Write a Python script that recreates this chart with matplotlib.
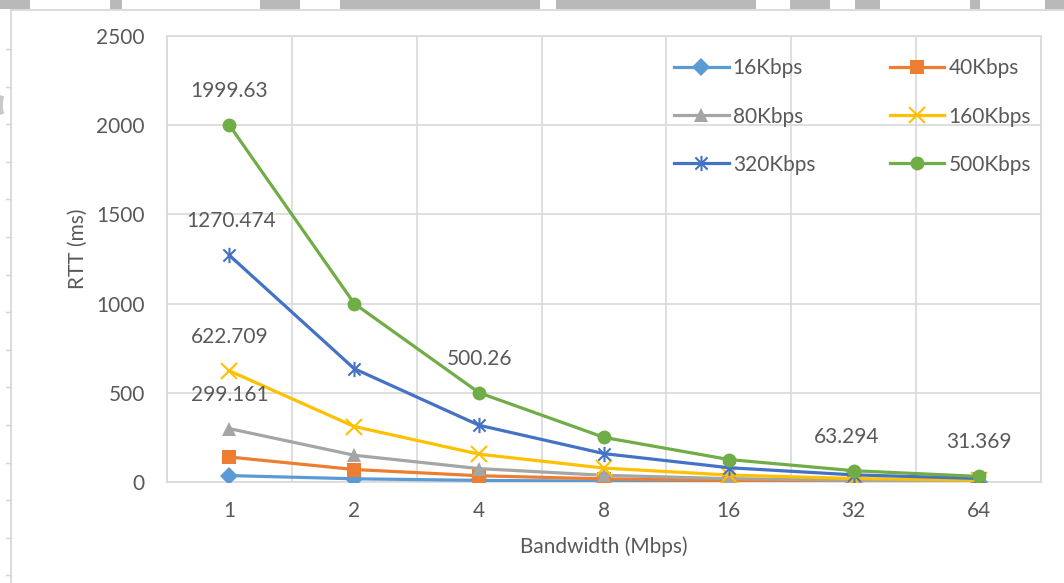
import numpy as np
import matplotlib
matplotlib.use('Agg')
import matplotlib.pyplot as plt
from matplotlib.path import Path
from matplotlib.patches import Rectangle, Arc

plt.rcParams['font.family'] = ['Lato', 'DejaVu Sans']

# data
bandwidth = ['1', '2', '4', '8', '16', '32', '64']
series_names = ['16Kbps', '40Kbps', '80Kbps', '160Kbps', '320Kbps', '500Kbps']
rtt_16 = [36, 18, 9, 4.5, 2.3, 1.2, 0.6]
rtt_40 = [140, 70, 35, 17.5, 8.8, 4.4, 2.2]
rtt_80 = [299.161, 150, 75, 37.5, 18.8, 9.4, 4.7]
rtt_160 = [622.709, 311, 156, 78, 39, 19.5, 9.8]
rtt_320 = [1270.474, 635, 318, 159, 80, 40, 20]
rtt_500 = [1999.63, 1000, 500.26, 250, 126, 63.294, 31.369]

# which points carry a value label: (series index, category index, x shift px)
labelled = [(5, 0, 0), (4, 0, 2), (3, 0, 0), (2, 0, 0), (5, 2, 0), (5, 5, -7), (5, 6, 0)]

colors = ['#5B9BD5', '#ED7D31', '#A5A5A5', '#FFC000', '#4472C4', '#70AD47']
txt = '#595959'
grid = '#d9d9d9'
fs = 15

# excel style "star" marker: an x with a vertical stroke
star = Path([(-1, -1), (1, 1), (-1, 1), (1, -1), (0, -1.25), (0, 1.25)],
            [Path.MOVETO, Path.LINETO, Path.MOVETO, Path.LINETO, Path.MOVETO, Path.LINETO])
markers = ['D', 's', '^', 'x', star, 'o']
msizes = [9, 9.5, 10, 11, 11, 10]

all_series = [rtt_16, rtt_40, rtt_80, rtt_160, rtt_320, rtt_500]
x = np.arange(len(bandwidth))

fig = plt.figure(figsize=(10.64, 5.83), dpi=100)
ax = fig.add_axes([167 / 1064, 1 - 482 / 583, (1041 - 167) / 1064, (482 - 36) / 583])

handles = []
for i, (name, ys) in enumerate(zip(series_names, all_series)):
    m = markers[i]
    open_m = m == 'x' or m is star
    h, = ax.plot(x, ys, color=colors[i], lw=2.3, marker=m, markersize=msizes[i],
                 markeredgewidth=1.5 if open_m else 0,
                 markerfacecolor='none' if open_m else colors[i],
                 markeredgecolor=colors[i], label=name, zorder=3 + i)
    handles.append(h)

for si, ci, dx in labelled:
    v = all_series[si][ci]
    ax.annotate(str(v), xy=(ci, v), xytext=(dx, 34), textcoords='offset pixels',
                ha='center', va='center', fontsize=fs, color=txt, zorder=20)

ax.set_xlim(-0.5, len(bandwidth) - 0.5)
ax.set_ylim(0, 2500)
ax.set_yticks(np.arange(0, 2501, 500))
ax.set_xticks(x)
ax.set_xticklabels(bandwidth)
ax.set_xticks(np.arange(-0.5, len(bandwidth)), minor=True)
ax.grid(True, axis='y', color=grid, lw=1.2)
ax.grid(True, axis='x', which='minor', color=grid, lw=1.2)
ax.tick_params(which='both', length=0, colors=txt, labelsize=fs)
ax.tick_params(axis='y', pad=16)
ax.tick_params(axis='x', pad=14)
for s in ax.spines.values():
    s.set_color(grid)
    s.set_linewidth(1.2)
ax.set_axisbelow(True)

ax.set_xlabel('Bandwidth (Mbps)', fontsize=fs, color=txt, labelpad=11)
ax.set_ylabel('RTT (ms)', fontsize=fs, color=txt)
ax.yaxis.set_label_coords(-0.09, 0.522)

# legend filled row by row like excel does
order = [0, 2, 4, 1, 3, 5]
leg = ax.legend([handles[k] for k in order], [series_names[k] for k in order],
                ncol=2, loc='upper left', bbox_to_anchor=(0.5686, 0.973),
                frameon=False, fontsize=fs, labelcolor=txt, borderpad=0,
                handlelength=2.6, handletextpad=0.2, columnspacing=3.6,
                labelspacing=1.35)
leg.set_zorder(30)

# bits of the surrounding page in the screenshot
fig.add_artist(plt.Line2D([11 / 1064, 11 / 1064], [0, 1 - 10 / 583], color='#d6d6d6', lw=1.2))
fig.add_artist(plt.Line2D([11 / 1064, 1], [1 - 10 / 583, 1 - 10 / 583], color='#d6d6d6', lw=1.2))
for ty in np.arange(49, 583, 37.6):
    fig.add_artist(plt.Line2D([6 / 1064, 11 / 1064], [1 - ty / 583, 1 - ty / 583], color='#d6d6d6', lw=1))
for x0, x1 in [(0, 30), (110, 122), (260, 300), (340, 540), (556, 756), (790, 830),
               (855, 880), (970, 980), (1045, 1064)]:
    fig.add_artist(Rectangle((x0 / 1064, 1 - 9 / 583), (x1 - x0) / 1064, 9 / 583,
                             transform=fig.transFigure, color='#b9b9b9', lw=0))
fig.add_artist(Arc((22 / 1064, 1 - 105 / 583), 44 / 1064, 50 / 583, theta1=140, theta2=220,
                   transform=fig.transFigure, edgecolor='#c8c8c8', lw=4))

fig.savefig('out.png', dpi=100)
